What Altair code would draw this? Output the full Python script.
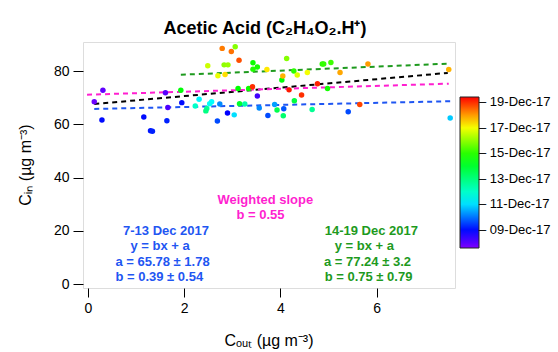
import altair as alt
import pandas as pd

# ---- scatter data ----
c_out = [0.13, 0.31, 1.61, 1.66, 3.52,
         0.29, 1.16, 1.30, 1.34, 1.64, 1.95, 2.90, 2.69, 3.74, 5.41, 4.07,
         2.74, 3.56, 3.88, 7.53, 3.04, 2.31, 2.57, 2.53,
         2.23, 2.47, 2.45, 3.26, 4.66, 4.06, 3.15, 3.93, 4.29,
         1.93, 3.12, 3.34, 4.98, 4.03, 4.28, 3.43, 3.52, 3.43, 4.87, 4.90, 5.05,
         4.13, 3.06, 2.83, 2.91, 2.49, 2.70, 4.35, 4.56, 2.85, 3.72,
         4.05, 5.24, 5.82, 7.50, 2.79, 2.98, 3.14,
         3.42, 4.77, 4.18, 4.44, 5.65]
c_in = [68.5, 72.9, 71.9, 66.4, 70.7,
        61.7, 62.8, 57.6, 57.4, 61.4, 68.2, 64.3, 61.3, 63.4, 64.8, 65.9,
        67.7, 66.2, 67.5, 62.4, 63.6, 69.5, 68.5, 67.8,
        66.9, 66.0, 65.1, 67.7, 65.6, 63.3, 67.8, 65.4, 68.9,
        72.9, 73.5, 73.5, 73.5, 76.7, 80.1, 80.8, 81.6, 83.2, 82.7, 82.7, 83.3,
        84.8, 89.2, 82.4, 82.4, 82.1, 78.3, 78.6, 79.5, 78.8, 80.7,
        78.2, 79.5, 82.7, 80.7, 88.6, 87.4, 84.1,
        74.2, 75.3, 73.0, 71.1, 67.5]
day = [7.8, 7.9, 8.0, 8.1, 8.2,
       9.0, 9.0, 9.1, 9.2, 9.2, 9.0, 8.9, 9.6, 9.6, 9.6, 9.7,
       10.2, 10.2, 10.4, 10.8, 11.0, 11.2, 11.3, 11.4,
       12.0, 12.6, 12.9, 12.4, 12.7, 13.2, 14.0, 13.6, 13.8,
       14.5, 14.6, 14.7, 14.8, 14.5, 15.0, 14.9, 14.8, 14.7, 15.0, 15.1, 15.2,
       15.9, 15.9, 16.0, 16.1, 16.6, 16.9, 16.8, 17.0, 17.4, 17.3,
       17.8, 17.9, 18.0, 17.8, 18.3, 18.4, 18.7,
       19.0, 19.1, 19.2, 19.0, 18.8]

# colour table (day of December -> colour)
cbar_days = [7.57, 8.9, 11.3, 14.6, 17.1, 19.42]
cbar_colors = ["#8000ff", "#0000ff", "#00ffff", "#00ff00", "#ffff00", "#ff0000"]
cbar_ticks = [9, 11, 13, 15, 17, 19]

# ---- fitted lines y = a + b x ----
fit_name = ["7-13 Dec", "14-19 Dec", "All", "Weighted"]
fit_a = [65.78, 77.24, 67.48, 71.2]
fit_b = [0.39, 0.75, 1.59, 0.55]
fit_x0 = [0.13, 1.93, 0.13, -0.02]
fit_x1 = [7.53, 7.50, 7.48, 7.50]
fit_color = ["#1f56f2", "#1e9a1e", "#000000", "#ff1fd0"]

BLUE, GREEN, MAGENTA = fit_color[0], fit_color[1], fit_color[3]
FONT = "Liberation Sans"

pts = pd.DataFrame({"c_out": c_out, "c_in": c_in, "day": day})
rows = []
for n, a, b, x0, x1 in zip(fit_name, fit_a, fit_b, fit_x0, fit_x1):
    rows.append({"fit": n, "x": x0, "y": a + b * x0})
    rows.append({"fit": n, "x": x1, "y": a + b * x1})
lines_df = pd.DataFrame(rows)

W, H = 372, 246
xscale = alt.Scale(domain=[-0.104, 7.63], nice=False, zero=False)
yscale = alt.Scale(domain=[-1.5, 91], nice=False, zero=False)

xaxis = alt.Axis(values=[0, 2, 4, 6], title=None, grid=False, domain=False,
                 tickSize=9, tickColor="black", labelFont=FONT, labelFontSize=14,
                 labelColor="black", labelPadding=4, format="d")
yaxis = alt.Axis(values=[0, 20, 40, 60, 80], title=None, grid=False, domain=False,
                 tickSize=10, tickColor="black", labelFont=FONT, labelFontSize=14,
                 labelColor="black", labelPadding=4, format="d")

lines = alt.Chart(lines_df).mark_line(strokeDash=[5, 4], strokeWidth=2, clip=True).encode(
    x=alt.X("x:Q", scale=xscale, axis=xaxis),
    y=alt.Y("y:Q", scale=yscale, axis=yaxis),
    stroke=alt.Stroke("fit:N", scale=alt.Scale(domain=fit_name, range=fit_color), legend=None),
    detail="fit:N",
)

points = alt.Chart(pts).mark_circle(size=30, opacity=1).encode(
    x=alt.X("c_out:Q", scale=xscale, axis=xaxis),
    y=alt.Y("c_in:Q", scale=yscale, axis=yaxis),
    fill=alt.Fill("day:Q",
                  scale=alt.Scale(domain=cbar_days, range=cbar_colors, interpolate="rgb"),
                  legend=alt.Legend(orient="none", legendX=377, legendY=55, title=None,
                                    direction="vertical", gradientLength=151,
                                    gradientThickness=19, values=cbar_ticks,
                                    labelExpr="'\u2013  ' + (datum.value < 10 ? '0' : '') + datum.value + '-Dec-17'",
                                    labelFont=FONT, labelFontSize=13, labelColor="black",
                                    labelOffset=0, gradientStrokeColor="#222",
                                    gradientStrokeWidth=1, padding=0)),
)


def txt(s, x, y, color="black", size=13, bold=True, align="left", angle=0, baseline="middle"):
    return alt.Chart(pd.DataFrame({"t": [s]})).mark_text(
        font=FONT, fontSize=size, fontWeight="bold" if bold else "normal",
        color=color, align=align, baseline=baseline, angle=angle,
    ).encode(text="t:N", x=alt.value(x), y=alt.value(y))


annots = [
    txt("Acetic Acid (C\u2082H\u2084O\u2082.H\u207a)", 182, -8, size=18, align="center", baseline="alphabetic"),
    txt("C\u2092\u1d64\u209c (\u00b5g m\u207b\u00b3)", 186, 304, size=16, bold=False, align="center", baseline="alphabetic"),
    txt("C\u1d62\u2099 (\u00b5g m\u207b\u00b3)", -52, 123, size=16, bold=False, align="center", baseline="alphabetic", angle=270),
    txt("Weighted slope", 134.4, 158.4, MAGENTA),
    txt("b = 0.55", 153.4, 173, MAGENTA),
    txt("7-13 Dec 2017", 40, 189.4, BLUE),
    txt("y = bx + a", 47.4, 204, BLUE),
    txt("a = 65.78 \u00b1 1.78", 32.4, 219.6, BLUE),
    txt("b = 0.39 \u00b1 0.54", 32.4, 235, BLUE),
    txt("14-19 Dec 2017", 241.7, 188.8, GREEN),
    txt("y = bx + a", 251.7, 204, GREEN),
    txt("a = 77.24 \u00b1 3.2", 241, 219.6, GREEN),
    txt("b = 0.75 \u00b1 0.79", 241.7, 235, GREEN),
]

chart = alt.layer(lines, points, *annots).properties(
    width=W, height=H,
    autosize=alt.AutoSizeParams(type="none"),
    padding={"left": 83, "top": 42, "right": 103, "bottom": 64},
).configure_view(stroke="black", strokeWidth=1).configure(background="white")

chart.save("out.html", embed_options={"renderer": "svg", "actions": False})
